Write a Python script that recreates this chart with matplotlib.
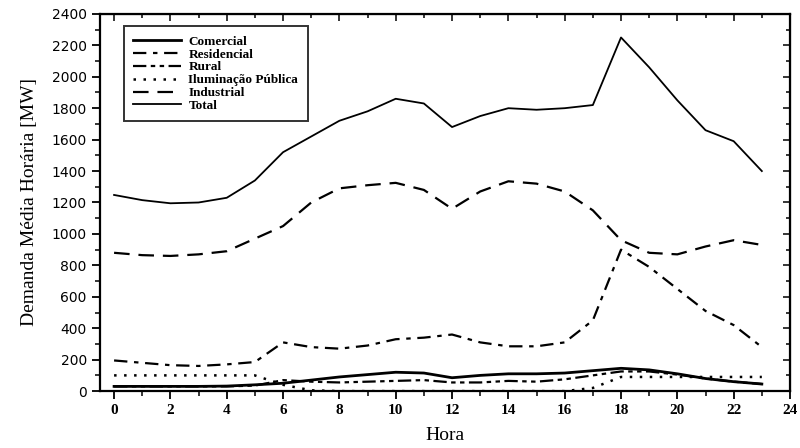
import numpy as np
import matplotlib
matplotlib.use("Agg")
import matplotlib.pyplot as plt
from matplotlib.ticker import MultipleLocator

plt.rcParams['font.family'] = ['Liberation Serif', 'DejaVu Serif']

# hours of the day
hora = list(range(24))

# demand per class [MW]
comercial = [30, 30, 30, 30, 32, 40, 50, 70, 90, 105, 120, 115, 85, 100, 110, 110, 115, 130, 145, 135, 110, 80, 60, 45]
residencial = [195, 180, 165, 160, 170, 185, 310, 280, 270, 290, 330, 340, 360, 310, 285, 285, 310, 450, 900, 790, 650, 510, 420, 280]
rural = [30, 30, 30, 30, 30, 35, 70, 60, 55, 60, 65, 70, 55, 55, 65, 60, 75, 100, 125, 125, 105, 80, 60, 45]
iluminacao = [100, 100, 100, 100, 100, 100, 40, 5, 0, 0, 0, 0, 0, 0, 0, 0, 0, 20, 90, 90, 90, 90, 90, 90]
industrial = [880, 865, 860, 870, 890, 970, 1050, 1200, 1290, 1310, 1325, 1280, 1160, 1270, 1335, 1320, 1270, 1150, 960, 880, 870, 920, 960, 930]
total = [1248, 1215, 1195, 1200, 1230, 1340, 1520, 1620, 1720, 1780, 1860, 1830, 1680, 1750, 1800, 1790, 1800, 1820, 2250, 2060, 1850, 1660, 1590, 1400]

fig = plt.figure(figsize=(8, 4.48), dpi=100)
ax = fig.add_axes([0.125, 0.127, 0.8625, 0.842])

ax.plot(hora, comercial, color='black', lw=2.0, ls='-', label='Comercial')
ax.plot(hora, residencial, color='black', lw=1.6, ls=(0, (6, 3, 2, 3)), label='Residencial')
ax.plot(hora, rural, color='black', lw=1.6, ls=(0, (6, 2, 2, 2, 2, 2)), label='Rural')
ax.plot(hora, iluminacao, color='black', lw=1.8, ls=(0, (1, 3)), label='Iluminação Pública')
ax.plot(hora, industrial, color='black', lw=1.6, ls=(0, (7, 4)), label='Industrial')
ax.plot(hora, total, color='black', lw=1.3, ls='-', label='Total')

ax.set_xlim(-0.5, 24)
ax.set_ylim(0, 2400)
ax.xaxis.set_major_locator(MultipleLocator(2))
ax.xaxis.set_minor_locator(MultipleLocator(1))
ax.yaxis.set_major_locator(MultipleLocator(200))
ax.yaxis.set_minor_locator(MultipleLocator(100))

ax.tick_params(axis='both', which='major', direction='out', length=6, width=1.3, labelsize=11)
ax.tick_params(axis='both', which='minor', direction='out', length=3.5, width=1.1)
for lab in ax.get_xticklabels():
    lab.set_fontweight('bold')
for lab in ax.get_yticklabels():
    lab.set_family('DejaVu Sans')
    lab.set_fontsize(10)

# inward ticks on top and right
axt = ax.secondary_xaxis('top')
axt.xaxis.set_major_locator(MultipleLocator(2))
axt.xaxis.set_minor_locator(MultipleLocator(1))
axt.tick_params(which='both', direction='in', labeltop=False, width=1.1)
axt.tick_params(which='major', length=5)
axt.tick_params(which='minor', length=3)
axr = ax.secondary_yaxis('right')
axr.yaxis.set_major_locator(MultipleLocator(200))
axr.yaxis.set_minor_locator(MultipleLocator(100))
axr.tick_params(which='both', direction='in', labelright=False, width=1.1)
axr.tick_params(which='major', length=5)
axr.tick_params(which='minor', length=3)

for s in ax.spines.values():
    s.set_linewidth(1.6)

ax.set_xlabel('Hora', fontsize=14, labelpad=7)
ax.set_ylabel('Demanda Média Horária [MW]', fontsize=14, labelpad=10)

leg = ax.legend(loc='upper left', bbox_to_anchor=(0.025, 0.985),
                frameon=True, fancybox=False, edgecolor='black', handlelength=3.6,
                labelspacing=0.05, borderpad=0.7, handletextpad=0.6,
                prop={'weight': 'bold', 'size': 9.5})
leg.get_frame().set_linewidth(1.4)

fig.savefig('out.png', dpi=100)
